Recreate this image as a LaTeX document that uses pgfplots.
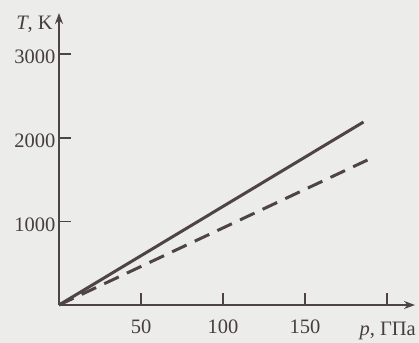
\documentclass[border=0pt]{standalone}
\usepackage{pgfplots}
\pgfplotsset{compat=1.18}
\usepackage{fontspec}
\setmainfont{Liberation Serif}
\usetikzlibrary{arrows.meta}
\definecolor{bg}{RGB}{236,236,234}
\definecolor{ink}{RGB}{78,68,68}
\definecolor{txt}{RGB}{70,62,62}
\begin{document}
\begin{tikzpicture}
\fill[bg] (0,0) rectangle (419bp,343bp);
\path[use as bounding box] (0,0) rectangle (419bp,343bp);
\begin{axis}[
  at={(59bp,38bp)}, anchor=south west,
  scale only axis, width=356bp, height=292bp,
  xmin=0, xmax=217, ymin=0, ymax=3493,
  axis lines=left,
  axis line style={ink, line width=2.2bp, -{Stealth[length=11bp,width=8bp]}},
  tick style={ink, line width=1.6bp},
  tick align=inside, major tick length=12bp,
  xtick={50,100,150,200}, xticklabels={50,100,150,},
  ytick={1000,2000,3000}, yticklabels={1000,2000,3000},
  /pgf/number format/assume math mode=true,
  every tick label/.append style={font=\fontsize{20.5bp}{24bp}\selectfont, text=txt},
  xticklabel style={anchor=base, yshift=-28bp},
  yticklabel style={yshift=-3bp},
  clip=false,
]
\addplot[ink, line width=3bp] coordinates {(0,0) (185.6,2189)};
\addplot[ink, line width=3bp, dash pattern=on 16bp off 9bp] coordinates {(0,0) (188,1734)};
\node[anchor=base east, inner sep=0, text=txt, font=\fontsize{20.5bp}{24bp}\selectfont] at (rel axis cs:0,1) [xshift=-6bp, yshift=-17bp] {\textit{T}, K};
\node[anchor=base east, inner sep=0, text=txt, font=\fontsize{20.5bp}{24bp}\selectfont] at (rel axis cs:1,0) [xshift=1bp, yshift=-30bp] {\textit{p}, ГПа};
\end{axis}
\end{tikzpicture}
\end{document}
